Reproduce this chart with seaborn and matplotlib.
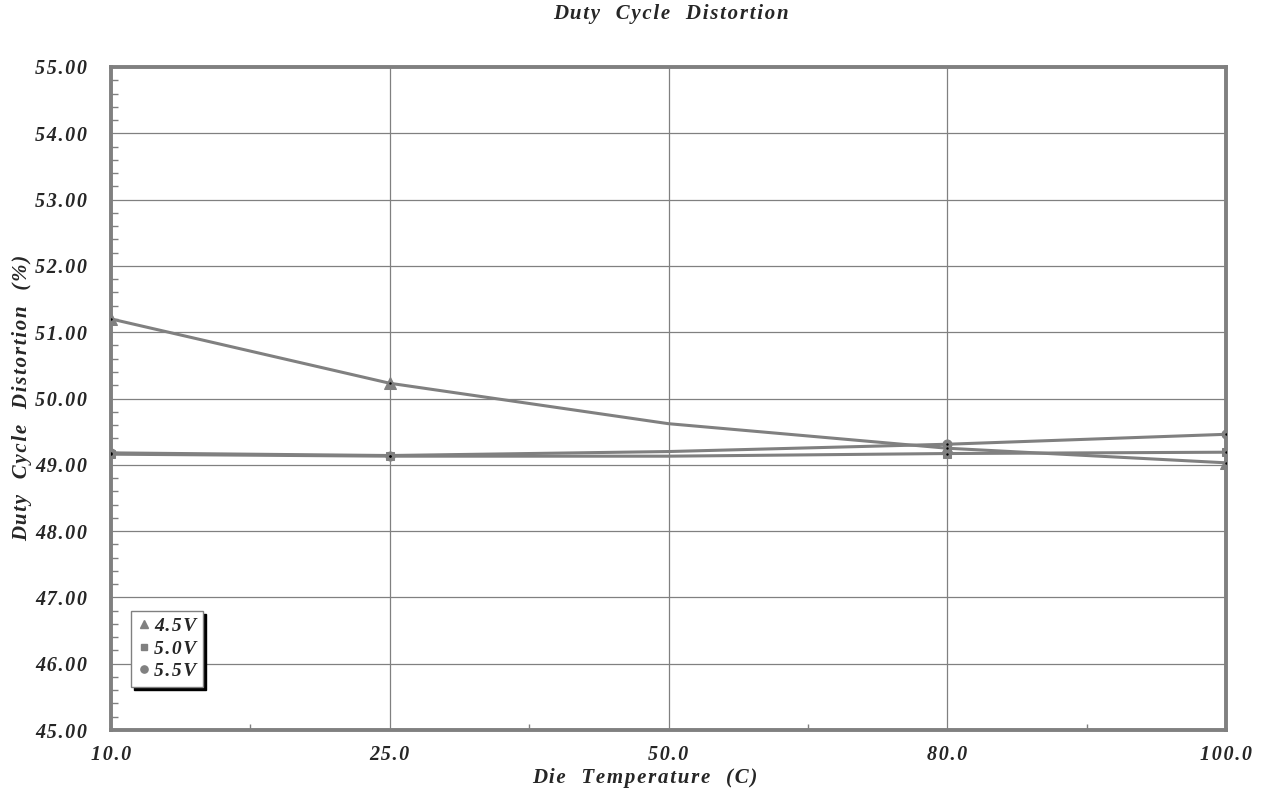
import matplotlib
matplotlib.use("Agg")
import matplotlib.pyplot as plt
import seaborn as sns
import numpy as np
import pandas as pd
from matplotlib.lines import Line2D
from matplotlib.ticker import MultipleLocator, FixedLocator

# ---- data ----
temps = ["10.0", "25.0", "50.0", "80.0", "100.0"]
v45 = [51.20, 50.23, 49.62, 49.25, 49.03]
v50 = [49.16, 49.13, 49.13, 49.17, 49.19]
v55 = [49.18, 49.14, 49.20, 49.31, 49.46]
series_names = ["4.5V", "5.0V", "5.5V"]
y_ticks = [45, 46, 47, 48, 49, 50, 51, 52, 53, 54, 55]
marker_idx = [0, 1, 3, 4]

sns.set_style("white")
FAM = ['Liberation Serif', 'DejaVu Serif']
plt.rcParams['font.family'] = FAM


def spaced(s, sep="\u200a"):
    return sep.join(list(s))


GRAY = "#808080"
fig = plt.figure(figsize=(12.62, 7.92), dpi=100)
ax = fig.add_axes([111/1262, 1-730/792, (1226-111)/1262, (730-67)/792])

markers = ["^", "s", "o"]
msizes = [8, 6, 6.5]
for vals, m, ms in zip([v45, v50, v55], markers, msizes):
    df = pd.DataFrame({"T": temps, "D": vals})
    sns.lineplot(data=df, x="T", y="D", ax=ax, color=GRAY, lw=2.2,
                 marker=m, markersize=ms, markevery=marker_idx,
                 markerfacecolor=GRAY, markeredgecolor=GRAY, sort=False)
    dm = df.iloc[marker_idx]
    sns.scatterplot(data=dm, x="T", y="D", ax=ax, color="black", s=3,
                    linewidth=0, zorder=5)

ax.set_xlim(0, len(temps) - 1)
ax.set_ylim(45, 55)
ax.yaxis.set_minor_locator(MultipleLocator(0.2))
ax.xaxis.set_minor_locator(FixedLocator([0.5, 1.5, 2.5, 3.5]))
ax.grid(True, which="major", color=GRAY, lw=0.9)
ax.set_axisbelow(True)

ax.set_yticks(y_ticks)
ax.set_yticklabels([spaced(f"{v:.2f}") for v in y_ticks])
ax.set_xticks(range(len(temps)))
ax.set_xticklabels([spaced(t) for t in temps])
for lab in ax.get_yticklabels() + ax.get_xticklabels():
    lab.set_family(FAM)
    lab.set_fontweight('bold')
    lab.set_fontstyle('italic')
    lab.set_fontsize(14.5)

ax.tick_params(axis='y', which='major', length=0, pad=17)
ax.tick_params(axis='x', which='major', length=0, pad=11)
ax.tick_params(axis='y', which='minor', direction='in', length=5,
               color=GRAY, width=1, left=True, right=False)
ax.tick_params(axis='x', which='minor', direction='in', length=4,
               color=GRAY, width=1, bottom=True, top=False)

for sp in ax.spines.values():
    sp.set_color(GRAY)
    sp.set_linewidth(2.8)

ax.set_xlabel("")
ax.set_ylabel("")

fig.text(671/1262, 1-14/792, spaced("Duty  Cycle  Distortion"), ha="center", va="center",
         fontsize=15, fontweight="bold", fontstyle="italic")
fig.text(645/1262, 1-778/792, spaced("Die  Temperature  (C)"), ha="center", va="center",
         fontsize=15, fontweight="bold", fontstyle="italic")
fig.text(22/1262, 1-398/792, spaced("Duty  Cycle  Distortion  (%)"), ha="center", va="center",
         rotation=90, fontsize=15, fontweight="bold", fontstyle="italic")

handles = [Line2D([], [], ls="none", marker=m, color=GRAY, markersize=ms*0.8,
                  markerfacecolor=GRAY)
           for m, ms in zip(markers, msizes)]
leg = ax.legend(handles, [spaced(n) for n in series_names], loc="lower left",
                bbox_to_anchor=((131-111)/1115, (730-687)/663),
                frameon=True, fancybox=False, shadow={'color': 'black', 'alpha': 1},
                handlelength=0.6, handletextpad=0.25, borderpad=0.35,
                labelspacing=0.25, borderaxespad=0,
                prop=dict(family=FAM, weight='bold', style='italic', size=14))
leg.get_frame().set_edgecolor(GRAY)
leg.get_frame().set_linewidth(1.0)

fig.savefig("out.png", dpi=100)
